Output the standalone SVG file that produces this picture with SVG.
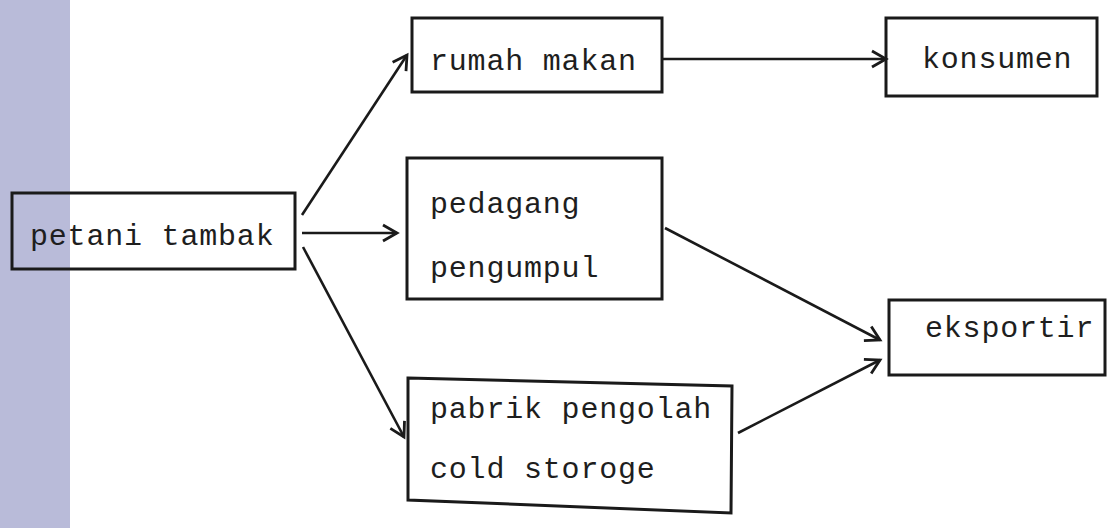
<svg xmlns="http://www.w3.org/2000/svg" width="1112" height="528" viewBox="0 0 1112 528">
<style>
.box{fill:none;stroke:#1a1a1a;stroke-width:3;stroke-linejoin:miter}
.t{font-family:"Liberation Mono","Courier New",monospace;font-size:30px;letter-spacing:0.8px;fill:#1e1e1e}
.c{fill:none;stroke:#1a1a1a;stroke-width:2.6}
</style>
<defs>
<marker id="ah" viewBox="0 0 20 20" refX="17" refY="10" markerWidth="20" markerHeight="20" markerUnits="userSpaceOnUse" orient="auto">
<path d="M3,2 L17,10 L3,18" fill="none" stroke="#1a1a1a" stroke-width="2.8"/>
</marker>
</defs>
<rect x="0" y="0" width="1112" height="528" fill="#ffffff"/>
<rect x="0" y="0" width="70" height="528" fill="#b9bbd9"/>
<g id="connectors">
<line class="c" x1="302" y1="215" x2="407" y2="55" marker-end="url(#ah)"/>
<line class="c" x1="302" y1="233" x2="397" y2="233" marker-end="url(#ah)"/>
<line class="c" x1="303" y1="247" x2="404" y2="437" marker-end="url(#ah)"/>
<line class="c" x1="662" y1="59" x2="886" y2="59" marker-end="url(#ah)"/>
<line class="c" x1="665" y1="228" x2="880" y2="340" marker-end="url(#ah)"/>
<line class="c" x1="738" y1="433" x2="880" y2="360" marker-end="url(#ah)"/>
</g>
<g id="petani-tambak">
<rect class="box" x="12" y="193" width="283" height="76"/>
<text class="t" x="30" y="245">petani tambak</text>
</g>
<g id="rumah-makan">
<rect class="box" x="412" y="18" width="250" height="74"/>
<text class="t" x="430" y="70">rumah makan</text>
</g>
<g id="konsumen">
<rect class="box" x="886" y="18" width="211" height="78"/>
<text class="t" x="922" y="68">konsumen</text>
</g>
<g id="pedagang-pengumpul">
<rect class="box" x="407" y="158" width="255" height="141"/>
<text class="t" x="430" y="213">pedagang</text>
<text class="t" x="430" y="277">pengumpul</text>
</g>
<g id="pabrik-pengolah">
<polygon class="box" points="408,378 732,386 731,513 408,500"/>
<text class="t" x="430" y="418">pabrik pengolah</text>
<text class="t" x="430" y="478">cold storoge</text>
</g>
<g id="eksportir">
<rect class="box" x="889" y="300" width="216" height="75"/>
<text class="t" x="925" y="337">eksportir</text>
</g>
</svg>
